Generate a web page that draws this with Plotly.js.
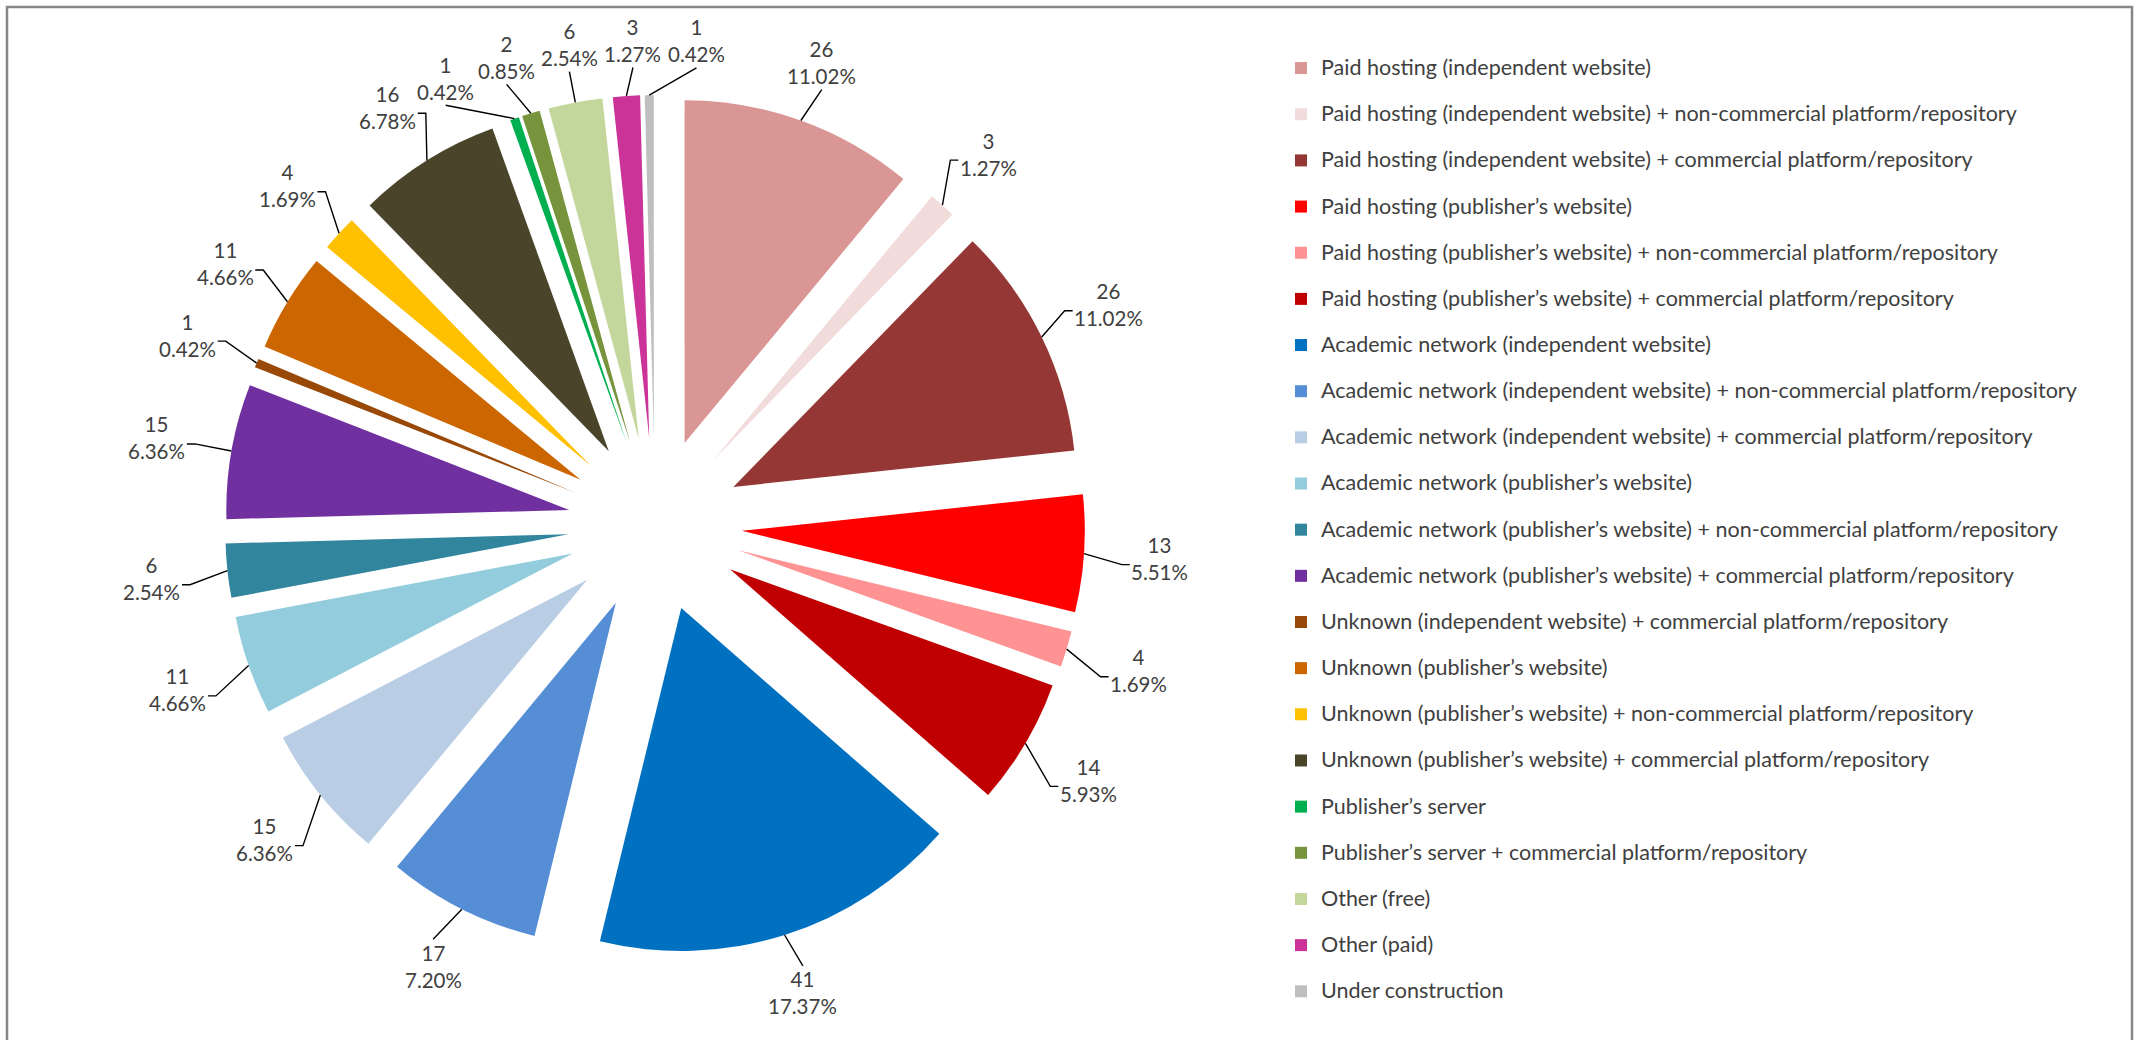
<!DOCTYPE html>
<html><head><meta charset="utf-8">
<script src="https://cdn.plot.ly/plotly-3.0.1.min.js"></script>
<style>html,body{margin:0;padding:0;background:#fff;overflow:hidden}#chart{width:2143px;height:1040px}</style>
</head><body><div id="chart"></div>
<script>
// ---- data ----
const categories = [
  "Paid hosting (independent website)",
  "Paid hosting (independent website) + non-commercial platform/repository",
  "Paid hosting (independent website) + commercial platform/repository",
  "Paid hosting (publisher\u2019s website)",
  "Paid hosting (publisher\u2019s website) + non-commercial platform/repository",
  "Paid hosting (publisher\u2019s website) + commercial platform/repository",
  "Academic network (independent website)",
  "Academic network (independent website) + non-commercial platform/repository",
  "Academic network (independent website) + commercial platform/repository",
  "Academic network (publisher\u2019s website)",
  "Academic network (publisher\u2019s website) + non-commercial platform/repository",
  "Academic network (publisher\u2019s website) + commercial platform/repository",
  "Unknown (independent website) + commercial platform/repository",
  "Unknown (publisher\u2019s website)",
  "Unknown (publisher\u2019s website) + non-commercial platform/repository",
  "Unknown (publisher\u2019s website) + commercial platform/repository",
  "Publisher\u2019s server",
  "Publisher\u2019s server + commercial platform/repository",
  "Other (free)",
  "Other (paid)",
  "Under construction"
];
const counts = [26, 3, 26, 13, 4, 14, 41, 17, 15, 11, 6, 15, 1, 11, 4, 16, 1, 2, 6, 3, 1];
const colors = [
  "#D99694", "#F2DCDB", "#953735", "#FF0000", "#FF9393", "#C00000",
  "#0070C0", "#558ED5", "#B9CDE5", "#93CDDD", "#31859C", "#7030A0",
  "#984807", "#CC6600", "#FFC000", "#4A452A", "#00B050", "#77933C",
  "#C3D69B", "#CC3399", "#BFBFBF"
];

// ---- layout geometry ----
const W = 2143, H = 1040;
const pieCx = 655, pieCy = 525, pieHalf = 430;   // pixel box of the pie (incl. pull)
const pullFrac = 0.254;
const FONT = "Lato, 'Open Sans', sans-serif";
const TXT = "#404040";

const total = counts.reduce((a, b) => a + b, 0);
const n = counts.length;
const R = pieHalf; // outer radius of pulled slices from pie centre

// mid angles (deg, clockwise from 12 o'clock)
const mids = [];
let cum = 0;
for (let i = 0; i < n; i++) { mids.push((cum + counts[i] / 2) / total * 360); cum += counts[i]; }

// spread label angles so neighbours don't overlap
const lab = mids.slice();
const minSep = 7.5;
for (let it = 0; it < 2000; it++) {
  let moved = false;
  for (let i = 0; i < n; i++) {
    const j = (i + 1) % n;
    const a = lab[i], b = lab[j] + (j === 0 ? 360 : 0);
    const d = b - a;
    if (d < minSep - 1e-6) { const s = (minSep - d) / 2; lab[i] -= s; lab[j] += s; moved = true; }
  }
  if (!moved) break;
}

const px2x = x => x / W, px2y = y => 1 - y / H;
const rad = d => d * Math.PI / 180;

const annotations = [], shapes = [];
for (let i = 0; i < n; i++) {
  const pct = (counts[i] / total * 100).toFixed(2) + "%";
  const line1 = String(counts[i]);
  const w = Math.max(line1.length, pct.length) * 10.8, h = 52;
  const tm = rad(mids[i]), tl = rad(lab[i]);
  const ax = pieCx + R * Math.sin(tm), ay = pieCy - R * Math.cos(tm);
  const s = Math.sin(tl), c = Math.cos(tl);
  const RL = R + 54 + 22 * Math.abs(s);
  const lx = pieCx + RL * s, ly = pieCy - RL * c;
  annotations.push({
    xref: "paper", yref: "paper", x: px2x(lx), y: px2y(ly),
    xanchor: "center", yanchor: "middle", showarrow: false, align: "center",
    text: line1 + "<br>" + pct,
    font: { family: FONT, size: 20.5, color: TXT }
  });
  let path;
  if (Math.abs(s) > 0.45) {
    const sg = Math.sign(s);
    const ex = lx - sg * (w / 2 + 3), ey = ly + 6;
    const tx = ex - sg * 8;
    path = `M${px2x(ax)},${px2y(ay)} L${px2x(tx)},${px2y(ey)} L${px2x(ex)},${px2y(ey)}`;
  } else {
    const ey = c > 0 ? ly + h / 2 + 1 : ly - h / 2 - 1;
    path = `M${px2x(ax)},${px2y(ay)} L${px2x(lx)},${px2y(ey)}`;
  }
  shapes.push({ type: "path", xref: "paper", yref: "paper", path: path,
    line: { color: "#000000", width: 1.4 } });
}

// outer frame
shapes.push({ type: "rect", xref: "paper", yref: "paper",
  x0: px2x(7), x1: px2x(2132), y0: px2y(7), y1: -0.05,
  line: { color: "#878787", width: 2.5 }, fillcolor: "rgba(0,0,0,0)" });

const legendLabels = categories.map(c => `<span style="font-size:21.5px;baseline-shift:6px">${c}</span>`);

const trace = {
  type: "pie",
  labels: legendLabels,
  values: counts,
  sort: false,
  direction: "clockwise",
  rotation: 0,
  pull: counts.map(() => pullFrac),
  marker: { colors: colors, line: { width: 0 } },
  textinfo: "none",
  hoverinfo: "value+percent",
  domain: {
    x: [px2x(pieCx - pieHalf), px2x(pieCx + pieHalf)],
    y: [px2y(pieCy + pieHalf), px2y(pieCy - pieHalf)]
  }
};

const layout = {
  width: W, height: H,
  margin: { l: 0, r: 0, t: 0, b: 0, autoexpand: false },
  paper_bgcolor: "#ffffff",
  showlegend: true,
  legend: {
    x: px2x(1281), y: px2y(40), xanchor: "left", yanchor: "top",
    font: { family: FONT, size: 33.2, color: TXT },
    bgcolor: "rgba(0,0,0,0)", borderwidth: 0
  },
  annotations: annotations,
  shapes: shapes
};

Plotly.newPlot("chart", [trace], layout, { displayModeBar: false, staticPlot: true });
</script>
</body></html>
